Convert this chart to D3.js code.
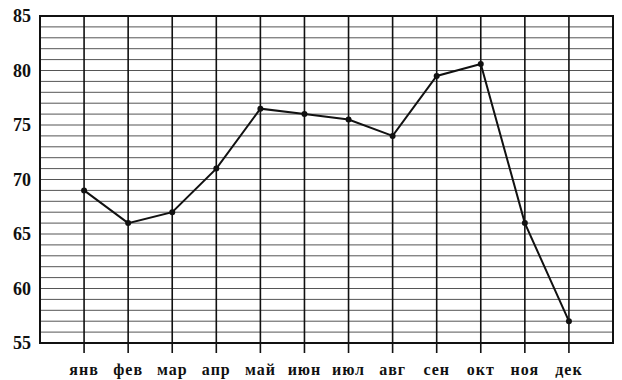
<!DOCTYPE html>
<html><head><meta charset="utf-8">
<script src="https://cdn.jsdelivr.net/npm/d3@7"></script>
<style>body{margin:0;background:#fff}svg{display:block}</style>
</head><body>
<svg id="c" width="622" height="380"></svg>
<script>
const months = ["янв","фев","мар","апр","май","июн","июл","авг","сен","окт","ноя","дек"];
const values = [69, 66, 67, 71, 76.5, 76, 75.5, 74, 79.5, 80.6, 66, 57];
const yTicks = [55, 60, 65, 70, 75, 80, 85];

const svg = d3.select("#c");
const L = 40, R = 613, T = 16, B = 343;
const x = d3.scaleLinear().domain([0, 13]).range([L, R]);
const y = d3.scaleLinear().domain([55, 85]).range([B, T]);

// horizontal grid (every unit)
svg.append("g").selectAll("line").data(d3.range(56, 85)).join("line")
  .attr("x1", L).attr("x2", R)
  .attr("y1", d => y(d)).attr("y2", d => y(d))
  .attr("stroke", "#555").attr("stroke-width", 1);

// vertical month lines with tick extension
svg.append("g").selectAll("line").data(months).join("line")
  .attr("x1", (d, i) => x(i + 1)).attr("x2", (d, i) => x(i + 1))
  .attr("y1", T).attr("y2", B + 10)
  .attr("stroke", "#111").attr("stroke-width", 1.6);

// frame
svg.append("rect").attr("x", L).attr("y", T).attr("width", R - L).attr("height", B - T)
  .attr("fill", "none").attr("stroke", "#111").attr("stroke-width", 2);

// y labels
svg.append("g").selectAll("text").data(yTicks).join("text")
  .attr("x", 31).attr("y", d => y(d)).attr("dy", "0.35em")
  .attr("text-anchor", "end")
  .attr("font-family", "Liberation Serif, DejaVu Serif, serif")
  .attr("font-size", 18).attr("font-weight", "bold").attr("fill", "#111")
  .text(d => d);

// x labels
svg.append("g").selectAll("text").data(months).join("text")
  .attr("x", (d, i) => x(i + 1)).attr("y", 375)
  .attr("text-anchor", "middle")
  .attr("font-family", "Liberation Serif, DejaVu Serif, serif")
  .attr("font-size", 16).attr("font-weight", "bold").attr("fill", "#111")
  .attr("letter-spacing", 1)
  .text(d => d);

// line
const line = d3.line().x((d, i) => x(i + 1)).y(d => y(d));
svg.append("path").datum(values).attr("d", line)
  .attr("fill", "none").attr("stroke", "#111").attr("stroke-width", 2);

svg.append("g").selectAll("circle").data(values).join("circle")
  .attr("cx", (d, i) => x(i + 1)).attr("cy", d => y(d)).attr("r", 3)
  .attr("fill", "#111");
</script>
</body></html>
